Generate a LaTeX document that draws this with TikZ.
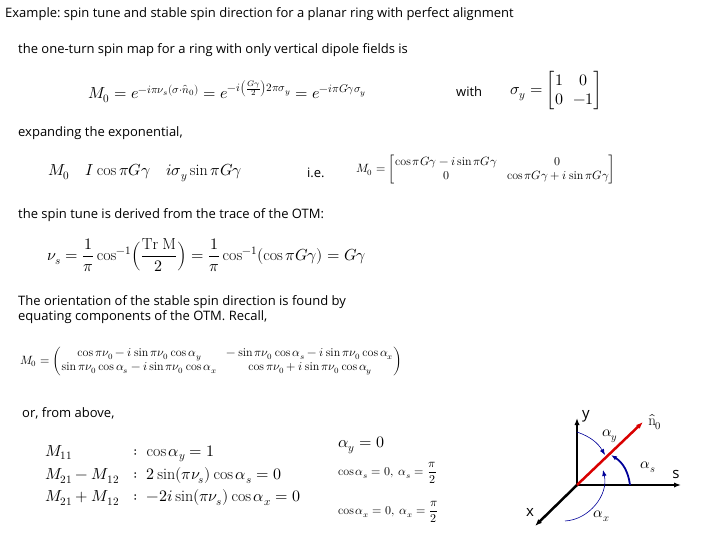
\documentclass[tikz,border=0pt]{standalone}
\usepackage{amsmath,amssymb}
\usepackage{fontspec}
\setmainfont{Open Sans}
\usepackage{unicode-math}
\setmathfont{Latin Modern Math}
\setmathrm{Latin Modern Roman}
\usetikzlibrary{arrows.meta}
\tikzset{txt/.style={anchor=west, inner sep=0pt, font=\fontsize{13}{15}\selectfont},
    eq/.style={anchor=west, inner sep=0pt, font=\fontsize{16}{19}\selectfont},
    eqs/.style={anchor=west, inner sep=0pt, font=\fontsize{12}{14}\selectfont},
    lab/.style={font=\fontsize{15}{17}\selectfont},
    axis/.style={-{Latex[length=7pt]}, line width=1.5pt},
    ang/.style={-{Latex[length=6pt]}, blue!60!black, line width=1pt}}

\begin{document}
\begin{tikzpicture}[x=1pt, y=-1pt]
  \useasboundingbox (0,0) rectangle (720,540);
  \node[txt] (title) at (5,14) {Example:\ spin tune and stable spin direction for a planar ring with perfect alignment};
  \node[txt] (t1) at (18,50) {the one-turn spin map for a ring with only vertical dipole fields is};
  \node[eq] (m0) at (88,92) {$M_0=e^{-i\pi\nu_s(\sigma\cdot\hat n_0)}=e^{-i\left(\frac{G\gamma}{2}\right)2\pi\sigma_y}=e^{-i\pi G\gamma\sigma_y}$};
  \node[txt] (with) at (456,92) {with};
  \node[eq] (sy) at (510,91) {$\sigma_y=\begin{bmatrix}1&0\\0&-1\end{bmatrix}$};
  \node[txt] (t2) at (18,133) {expanding the exponential,};
  \node[eq] (m0b) at (48,173) {$M_0\quad I\cos\pi G\gamma\quad i\sigma_y\sin\pi G\gamma$};
  \node[txt] (ie) at (307,173) {i.e.};
  \node[eqs] (m0c) at (356,170) {$M_0=\begin{bmatrix}\cos\pi G\gamma-i\sin\pi G\gamma & 0\\ 0 & \cos\pi G\gamma+i\sin\pi G\gamma\end{bmatrix}$};
  \node[txt] (t3) at (18,215) {the spin tune is derived from the trace of the OTM:};
  \node[eq] (nus) at (47,255) {$\nu_s=\dfrac{1}{\pi}\cos^{-1}\!\Big(\dfrac{\mathrm{Tr\ M}}{2}\Big)=\dfrac{1}{\pi}\cos^{-1}(\cos\pi G\gamma)=G\gamma$};
  \node[txt, align=left] (t4) at (18,310) {The orientation of the stable spin direction is found by\\equating components of the OTM. Recall,};
  \node[eqs] (otm) at (20,361) {$M_0=\begin{pmatrix}\cos\pi\nu_0-i\sin\pi\nu_0\cos\alpha_y & -\sin\pi\nu_0\cos\alpha_s-i\sin\pi\nu_0\cos\alpha_x\\ \sin\pi\nu_0\cos\alpha_s-i\sin\pi\nu_0\cos\alpha_x & \cos\pi\nu_0+i\sin\pi\nu_0\cos\alpha_y\end{pmatrix}$};
  \node[txt] (t5) at (22,413) {or, from above,};
  \node[eq] (comp) at (45,475) {$\begin{aligned}&M_{11} &&:\ \cos\alpha_y=1\\ &M_{21}-M_{12} &&:\ 2\sin(\pi\nu_s)\cos\alpha_s=0\\ &M_{21}+M_{12} &&:\ -2i\sin(\pi\nu_s)\cos\alpha_x=0\end{aligned}$};
  \node[eq] (ay) at (338,445) {$\alpha_y=0$};
  \node[eqs] (as) at (338,473) {$\cos\alpha_s=0,\ \alpha_s=\dfrac{\pi}{2}$};
  \node[eqs] (ax) at (338,512) {$\cos\alpha_x=0,\ \alpha_x=\dfrac{\pi}{2}$};
  % axes
  \coordinate (o) at (577,485);
  \coordinate (ye) at (577,418);
  \coordinate (se) at (681,485);
  \coordinate (xe) at (535,526);
  \coordinate (ne) at (643,422);
  \draw[axis] (o) -- (ye);
  \draw[axis] (o) -- (se);
  \draw[axis, line width=2.5pt] (o) -- (xe);
  \draw[axis, red!85!black, line width=2.5pt] (o) -- (ne);
  \node[lab] (ly) at (586,416) {y};
  \node[lab] (ls) at (676,474) {s};
  \node[lab] (lx) at (530,512) {x};
  \node[lab] (ln) at (655,422) {$\hat{\mathrm{n}}_0$};
  \node[lab] (lay) at (610,436) {$\alpha_y$};
  \node[lab] (las) at (648,467) {$\alpha_s$};
  \node[lab] (lax) at (602,516) {$\alpha_x$};
  % angles
  \draw[ang, line width=0.6pt] (577,432) to[bend left=20] (605,455);
  \draw[ang, line width=1.8pt] (630,485) to[bend right=25] (611,455);
  \draw[ang, line width=0.6pt] (565,521) to[bend right=50] (603,470);
\end{tikzpicture}
\end{document}
